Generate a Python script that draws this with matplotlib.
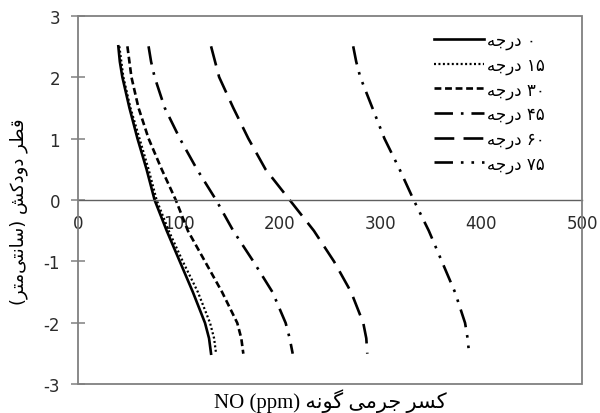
import matplotlib
matplotlib.use("Agg")
import matplotlib.pyplot as plt
from matplotlib.patches import Rectangle

plt.rcParams["axes.unicode_minus"] = False

# chimney height positions (cm) and NO mass fraction (ppm) per angle
heights = [2.5, 2.25, 2.0, 1.5, 1.0, 0.5, 0.0, -0.5, -1.0, -1.5, -2.0, -2.25, -2.5]
no_0 = [40, 41.5, 44, 51, 59, 68, 76, 88, 101, 114, 126, 130, 132]
no_15 = [41, 43, 45, 52, 61, 70, 78, 90, 104, 119, 131, 135, 137]
no_30 = [49, 51, 53, 60, 70, 83, 97, 109, 126, 143, 158, 162, 164]
no_45 = [70, 72.5, 76, 86, 101, 118, 137, 154, 174, 193, 206, 210, 213]
no_60 = [132, 136, 140, 154, 169, 186, 210, 234, 254, 271, 283, 286, 287]
no_75 = [273, 276, 280, 292, 304, 319, 333, 348, 361, 374, 384, 386.5, 388]
angles = ["۰", "۱۵", "۳۰", "۴۵", "۶۰", "۷۵"]

x_ticks = [0, 100, 200, 300, 400, 500]
y_ticks = [-3, -2, -1, 0, 1, 2, 3]

# contextual forms (isolated, final, initial, medial); None = does not join forward
FORMS = {
    "ا": ("\uFE8D", "\uFE8E", None, None),
    "ت": ("\uFE95", "\uFE96", "\uFE97", "\uFE98"),
    "ج": ("\uFE9D", "\uFE9E", "\uFE9F", "\uFEA0"),
    "د": ("\uFEA9", "\uFEAA", None, None),
    "ر": ("\uFEAD", "\uFEAE", None, None),
    "س": ("\uFEB1", "\uFEB2", "\uFEB3", "\uFEB4"),
    "ش": ("\uFEB5", "\uFEB6", "\uFEB7", "\uFEB8"),
    "ط": ("\uFEC1", "\uFEC2", "\uFEC3", "\uFEC4"),
    "ق": ("\uFED5", "\uFED6", "\uFED7", "\uFED8"),
    "م": ("\uFEE1", "\uFEE2", "\uFEE3", "\uFEE4"),
    "ن": ("\uFEE5", "\uFEE6", "\uFEE7", "\uFEE8"),
    "ه": ("\uFEE9", "\uFEEA", "\uFEEB", "\uFEEC"),
    "و": ("\uFEED", "\uFEEE", None, None),
    "ک": ("\uFB8E", "\uFB8F", "\uFB90", "\uFB91"),
    "گ": ("\uFB92", "\uFB93", "\uFB94", "\uFB95"),
    "ی": ("\uFBFC", "\uFBFD", "\uFBFE", "\uFBFF"),
}
MIRROR = {"(": ")", ")": "("}


def fa(text):
    """Shape a right-to-left Persian string and return it in visual order."""
    out = []
    for i, ch in enumerate(text):
        if ch not in FORMS:
            if ch != "\u200c":
                out.append(MIRROR.get(ch, ch))
            continue
        prev = text[i - 1] if i > 0 else ""
        nxt = text[i + 1] if i + 1 < len(text) else ""
        join_prev = prev in FORMS and FORMS[prev][2] is not None
        join_next = FORMS[ch][2] is not None and nxt in FORMS
        iso, fin, ini, med = FORMS[ch]
        if join_prev and join_next:
            out.append(med)
        elif join_prev:
            out.append(fin)
        elif join_next:
            out.append(ini)
        else:
            out.append(iso)
    return "".join(reversed(out))


series = [no_0, no_15, no_30, no_45, no_60, no_75]
styles = [
    "-",
    (0, (0.9, 1.1)),
    (0, (2.6, 1.4)),
    (0, (7, 3, 1, 3)),
    (0, (7.5, 3.5)),
    (0, (7, 3, 1, 3, 1, 3)),
]

fig = plt.figure(figsize=(6, 4.14), dpi=100)
ax = fig.add_axes([0.13, 0.069, 0.84, 0.891])

for vals, ang, ls in zip(series, angles, styles):
    lw = 1.6 if ls == styles[1] else 1.9
    ax.plot(vals, heights, color="black", lw=lw, linestyle=ls,
            label=fa("درجه") + " " + ang)

ax.set_xlim(0, 500)
ax.set_ylim(-3, 3)
ax.set_xticks(x_ticks)
ax.set_yticks(y_ticks)

gray = "#808080"
for side in ["top", "right", "left"]:
    ax.spines[side].set_visible(False)
ax.spines["bottom"].set_position(("data", 0))
ax.spines["bottom"].set_color("#606060")
ax.spines["bottom"].set_linewidth(1.0)
ax.add_patch(Rectangle((0, 0), 1, 1, transform=ax.transAxes, fill=False,
                       ec=gray, lw=1.3, clip_on=False, zorder=3))

ax.tick_params(axis="x", length=0, pad=10, labelsize=12, labelcolor="#2b2b2b")
ax.tick_params(axis="y", direction="inout", length=10, width=1.1, color=gray,
               pad=8, labelsize=12, labelcolor="#2b2b2b")

ax.set_ylabel(fa("قطر دودکش (سانتی‌متر)"), family="DejaVu Sans", fontsize=13)
ax.yaxis.set_label_coords(-0.1, 0.47)
fig.text(0.55, 0.031, "NO (ppm) " + fa("کسر جرمی گونه"),
         family=["Liberation Serif", "DejaVu Sans"], fontsize=15,
         ha="center", va="center")

ax.legend(loc="upper right", bbox_to_anchor=(0.95, 0.99), frameon=False,
          handlelength=3.0, labelspacing=0.38, handletextpad=0.2,
          borderaxespad=0.3, prop={"family": "DejaVu Sans", "size": 12})

fig.savefig("out.png", dpi=100)
